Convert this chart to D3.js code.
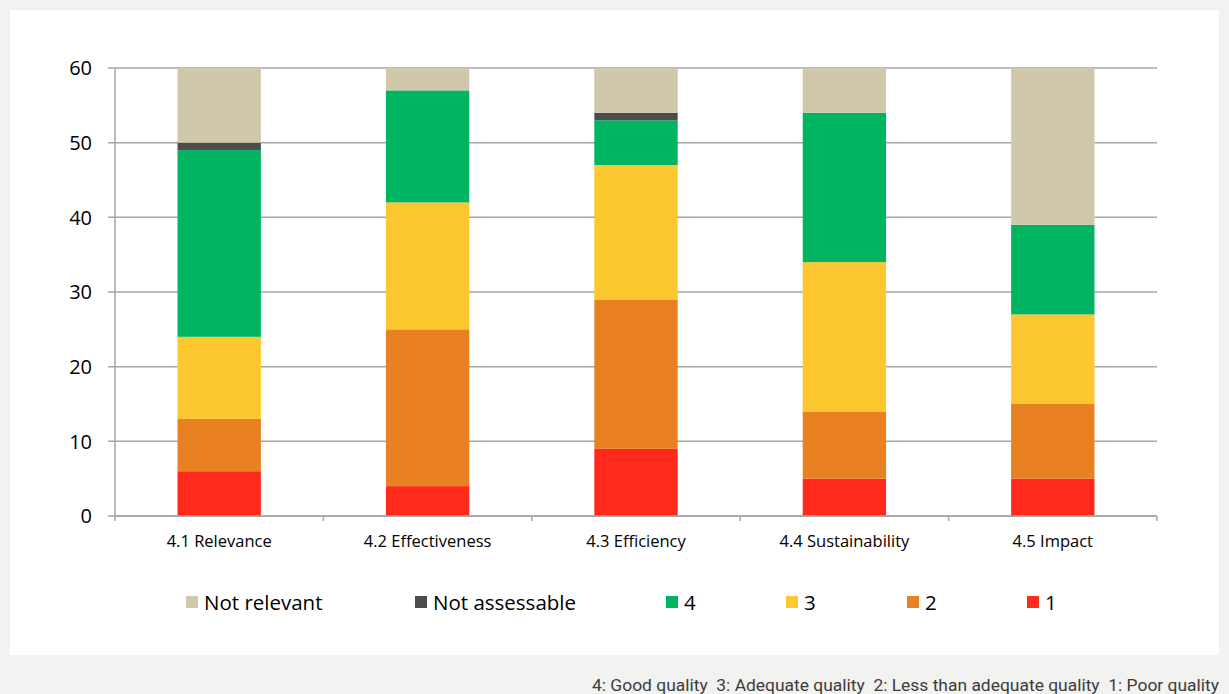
<!DOCTYPE html>
<html>
<head>
<meta charset="utf-8">
<script src="https://cdn.jsdelivr.net/npm/d3@7"></script>
<style>
  body { margin: 0; background: #f2f2f0; }
  svg { display: block; }
</style>
</head>
<body>
<div id="chart"></div>
<script>
// dữ liệu
const categories = ["4.1 Relevance", "4.2 Effectiveness", "4.3 Efficiency", "4.4 Sustainability", "4.5 Impact"];
const seriesNames = ["1", "2", "3", "4", "Not assessable", "Not relevant"];
const poor = [6, 4, 9, 5, 5];
const lessAdequate = [7, 21, 20, 9, 10];
const adequate = [11, 17, 18, 20, 12];
const good = [25, 15, 6, 20, 12];
const notAssessable = [1, 0, 1, 0, 0];
const notRelevant = [10, 3, 6, 6, 21];
const yTicks = [0, 10, 20, 30, 40, 50, 60];
const legendOrder = ["Not relevant", "Not assessable", "4", "3", "2", "1"];
const footnote = "4: Good quality  3: Adequate quality  2: Less than adequate quality  1: Poor quality";

const colors = {
    "1": "#ff2a1c",
    "2": "#e98123",
    "3": "#fdc72f",
    "4": "#00b561",
    "Not assessable": "#4d4d4d",
    "Not relevant": "#cfc8aa"
};

const data = categories.map((c, i) => ({
    cat: c,
    "1": poor[i], "2": lessAdequate[i], "3": adequate[i], "4": good[i],
    "Not assessable": notAssessable[i], "Not relevant": notRelevant[i]
}));

const W = 1229, H = 694;
const margin = { top: 68, left: 115, right: 72, bottom: 178 };
const width = W - margin.left - margin.right;
const height = H - margin.top - margin.bottom;
const font = "'Open Sans', sans-serif";

const svgRoot = d3.select("#chart").append("svg")
    .attr("width", W).attr("height", H);

// panel trắng
svgRoot.append("rect")
    .attr("x", 10).attr("y", 10).attr("width", 1209).attr("height", 645)
    .attr("fill", "#ffffff");

const svg = svgRoot.append("g")
    .attr("transform", "translate(" + margin.left + "," + margin.top + ")");

const x = d3.scaleBand()
    .domain(categories)
    .range([0, width])
    .paddingInner(0.6)
    .paddingOuter(0.3);

const y = d3.scaleLinear()
    .domain([0, 60])
    .range([height, 0]);

// lưới ngang
svg.append("g")
    .selectAll("line")
    .data(yTicks)
    .enter()
    .append("line")
    .attr("x1", -7).attr("x2", width)
    .attr("y1", d => y(d)).attr("y2", d => y(d))
    .attr("stroke", "#a6a6a6")
    .attr("stroke-width", 1.5);

// trục y
svg.append("line")
    .attr("x1", 0).attr("x2", 0).attr("y1", 0).attr("y2", height)
    .attr("stroke", "#a6a6a6").attr("stroke-width", 1.5);

svg.append("g")
    .selectAll("text")
    .data(yTicks)
    .enter()
    .append("text")
    .attr("x", -23)
    .attr("y", d => y(d))
    .attr("dy", "0.36em")
    .attr("text-anchor", "end")
    .style("font-family", font)
    .style("font-size", "20px")
    .attr("fill", "#000")
    .text(d => d);

// cột chồng
const stack = d3.stack().keys(seriesNames);
const layers = stack(data);

svg.selectAll(".layer")
    .data(layers)
    .enter()
    .append("g")
    .attr("class", "layer")
    .attr("fill", d => colors[d.key])
    .selectAll("rect")
    .data(d => d)
    .enter()
    .append("rect")
    .attr("x", d => x(d.data.cat))
    .attr("y", d => y(d[1]))
    .attr("width", x.bandwidth())
    .attr("height", d => y(d[0]) - y(d[1]));

// trục x
const step = x.step();
svg.append("line")
    .attr("x1", 0).attr("x2", width).attr("y1", height).attr("y2", height)
    .attr("stroke", "#a6a6a6").attr("stroke-width", 1.5);

svg.append("g")
    .selectAll("line")
    .data(d3.range(categories.length + 1))
    .enter()
    .append("line")
    .attr("x1", d => d * step).attr("x2", d => d * step)
    .attr("y1", height).attr("y2", height + 5)
    .attr("stroke", "#a6a6a6").attr("stroke-width", 1.5);

svg.append("g")
    .selectAll("text")
    .data(categories)
    .enter()
    .append("text")
    .attr("x", d => x(d) + x.bandwidth() / 2)
    .attr("y", height + 31)
    .attr("text-anchor", "middle")
    .style("font-family", font)
    .style("font-size", "16.5px")
    .attr("fill", "#000")
    .text(d => d);

// chú giải
const legendX = [186, 415, 666, 786, 907, 1027];
const legend = svgRoot.append("g")
    .selectAll("g")
    .data(legendOrder)
    .enter()
    .append("g")
    .attr("transform", (d, i) => "translate(" + legendX[i] + ",596)");

legend.append("rect")
    .attr("width", 12).attr("height", 12)
    .attr("fill", d => colors[d]);

legend.append("text")
    .attr("x", 18)
    .attr("y", 14)
    .style("font-family", font)
    .style("font-size", "20.5px")
    .attr("fill", "#000")
    .text(d => d);

// chú thích dưới
svgRoot.append("text")
    .attr("x", 1219)
    .attr("y", 691)
    .attr("text-anchor", "end")
    .attr("textLength", 627)
    .attr("lengthAdjust", "spacingAndGlyphs")
    .style("font-family", "Roboto, sans-serif")
    .style("font-size", "16px")
    .attr("fill", "#3c3c3c")
    .style("white-space", "pre")
    .text(footnote);
</script>
</body>
</html>
